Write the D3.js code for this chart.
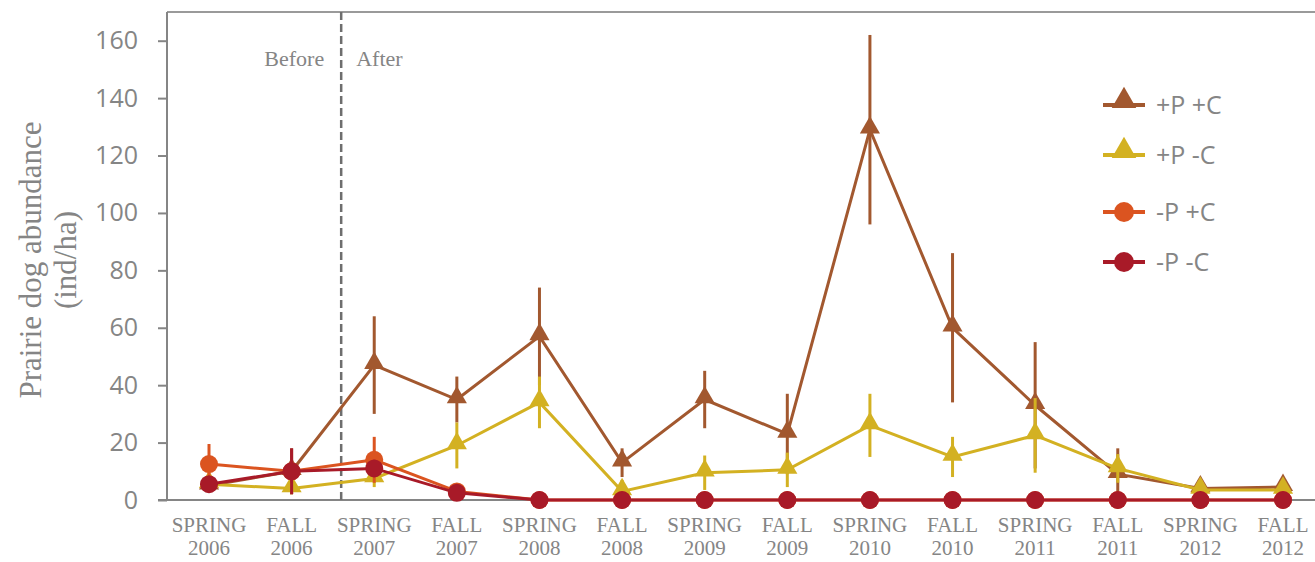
<!DOCTYPE html>
<html>
<head>
<meta charset="utf-8">
<script src="https://cdn.jsdelivr.net/npm/d3@7"></script>
<style>
  body { margin: 0; background: #fff; }
  svg { display: block; }
</style>
</head>
<body>
<div id="chart"></div>
<script>
const seasons = ['SPRING', 'FALL', 'SPRING', 'FALL', 'SPRING', 'FALL', 'SPRING', 'FALL', 'SPRING', 'FALL', 'SPRING', 'FALL', 'SPRING', 'FALL'];
const years = ['2006', '2006', '2007', '2007', '2008', '2008', '2009', '2009', '2010', '2010', '2011', '2011', '2012', '2012'];
const yTicks = [0, 20, 40, 60, 80, 100, 120, 140, 160];

const seriesNames = ['+P +C', '+P -C', '-P +C', '-P -C'];
const ppcValues = [5, 10, 47, 35, 57, 13, 35, 23, 129, 60, 33, 9, 4, 4.5];
const ppcErrors = [2, 8, 17, 8, 17, 5, 10, 14, 33, 26, 22, 9, 3, 3];
const pmcValues = [5.5, 4, 7.5, 19, 34, 3, 9.5, 10.5, 26, 15, 22.5, 11, 3.5, 3.5];
const pmcErrors = [2, 2, 3, 8, 9, 4, 6, 6, 11, 7, 13, 5, 1, 1];
const mpcValues = [12.5, 10, 14, 3, 0, 0, 0, 0, 0, 0, 0, 0, 0, 0];
const mpcErrors = [7, 4, 8, 1, 0, 0, 0, 0, 0, 0, 0, 0, 0, 0];
const mmcValues = [5.5, 10, 11, 2.5, 0, 0, 0, 0, 0, 0, 0, 0, 0, 0];
const mmcErrors = [2, 8, 3, 1, 0, 0, 0, 0, 0, 0, 0, 0, 0, 0];
const dividerIndex = 1.6;

const width = 1315, height = 562;
const PLOT_LEFT = 167, PLOT_TOP = 12, PLOT_BOTTOM = 500;
const GREY = '#858585';

const svg = d3.select('#chart').append('svg')
  .attr('width', width)
  .attr('height', height);

const idx = d3.range(seasons.length);
const x = d3.scaleLinear().domain([0, seasons.length - 1]).range([209, 1283]);
const y = d3.scaleLinear().domain([0, 170]).range([PLOT_BOTTOM, PLOT_TOP]);

// frame: top line
svg.append('line')
  .attr('x1', PLOT_LEFT).attr('x2', width)
  .attr('y1', PLOT_TOP).attr('y2', PLOT_TOP)
  .attr('stroke', '#9a9a9a').attr('stroke-width', 2);

// y axis
const yAxis = svg.append('g')
  .attr('transform', `translate(${PLOT_LEFT},0)`)
  .call(d3.axisLeft(y).tickValues(yTicks).tickSize(9).tickPadding(20));
yAxis.select('.domain').attr('stroke', GREY).attr('stroke-width', 2)
  .attr('d', `M0,${PLOT_TOP}V${PLOT_BOTTOM}`);
yAxis.selectAll('.tick line').attr('stroke', GREY).attr('stroke-width', 2);
yAxis.selectAll('.tick text')
  .attr('fill', GREY)
  .style('font-family', '"Open Sans", sans-serif')
  .style('font-size', '25px');

// x axis line
svg.append('line')
  .attr('x1', PLOT_LEFT - 9).attr('x2', width)
  .attr('y1', y(0)).attr('y2', y(0))
  .attr('stroke', GREY).attr('stroke-width', 2);

// x labels
const xl = svg.append('g')
  .style('font-family', '"Liberation Serif", "Times New Roman", serif')
  .style('font-size', '21px')
  .attr('fill', GREY)
  .attr('text-anchor', 'middle');
xl.selectAll('text.season').data(idx).join('text')
  .attr('class', 'season')
  .attr('x', i => x(i)).attr('y', 532)
  .text(i => seasons[i]);
xl.selectAll('text.year').data(idx).join('text')
  .attr('class', 'year')
  .attr('x', i => x(i)).attr('y', 555)
  .text(i => years[i]);

// y title
const yt = svg.append('text')
  .attr('transform', `translate(41,${(PLOT_TOP + PLOT_BOTTOM) / 2 + 4}) rotate(-90)`)
  .attr('text-anchor', 'middle')
  .attr('fill', GREY)
  .style('font-family', '"Liberation Serif", "Times New Roman", serif')
  .style('font-size', '31px');
yt.append('tspan').attr('x', 0).attr('dy', 0).text('Prairie dog abundance');
yt.append('tspan').attr('x', 0).attr('dy', 35).text('(ind/ha)');

// before / after divider
const dx = x(dividerIndex);
svg.append('line')
  .attr('x1', dx).attr('x2', dx)
  .attr('y1', PLOT_TOP).attr('y2', PLOT_BOTTOM)
  .attr('stroke', '#6e6e6e').attr('stroke-width', 2.5)
  .attr('stroke-dasharray', '8,4');
svg.append('text')
  .attr('x', dx - 17).attr('y', 66)
  .attr('text-anchor', 'end')
  .attr('fill', GREY)
  .style('font-family', '"Liberation Serif", serif')
  .style('font-size', '22px')
  .text('Before');
svg.append('text')
  .attr('x', dx + 15).attr('y', 66)
  .attr('fill', GREY)
  .style('font-family', '"Liberation Serif", serif')
  .style('font-size', '22px')
  .text('After');

const series = [
  { name: seriesNames[0], values: ppcValues, errors: ppcErrors, color: '#A2582F', shape: 'triangle' },
  { name: seriesNames[1], values: pmcValues, errors: pmcErrors, color: '#D3B122', shape: 'triangle' },
  { name: seriesNames[2], values: mpcValues, errors: mpcErrors, color: '#DB5420', shape: 'circle' },
  { name: seriesNames[3], values: mmcValues, errors: mmcErrors, color: '#A81A28', shape: 'circle' }
];

const line = d3.line().x(d => x(d.i)).y(d => y(d.v));
const tri = d3.symbol().type(d3.symbolTriangle).size(175);

series.forEach(s => {
  const pts = idx.map(i => ({ i, v: s.values[i], e: s.errors[i] }));
  const g = svg.append('g');
  g.selectAll('line.err').data(pts.filter(p => p.e > 0)).join('line')
    .attr('class', 'err')
    .attr('x1', p => x(p.i)).attr('x2', p => x(p.i))
    .attr('y1', p => y(p.v + p.e)).attr('y2', p => y(Math.max(0, p.v - p.e)))
    .attr('stroke', s.color).attr('stroke-width', 3);
  g.append('path').datum(pts)
    .attr('d', line)
    .attr('fill', 'none')
    .attr('stroke', s.color)
    .attr('stroke-width', 3);
  if (s.shape === 'triangle') {
    g.selectAll('path.m').data(pts).join('path')
      .attr('class', 'm')
      .attr('d', tri)
      .attr('transform', p => `translate(${x(p.i)},${y(p.v) - 2})`)
      .attr('fill', s.color);
  } else {
    g.selectAll('circle.m').data(pts).join('circle')
      .attr('class', 'm')
      .attr('cx', p => x(p.i)).attr('cy', p => y(p.v))
      .attr('r', 9)
      .attr('fill', s.color);
  }
});

// legend
const legendY = [105, 155, 212, 262];
const legTri = d3.symbol().type(d3.symbolTriangle).size(260);
const lg = svg.append('g');
series.forEach((s, k) => {
  const ly = legendY[k];
  lg.append('line')
    .attr('x1', 1103).attr('x2', 1145)
    .attr('y1', ly).attr('y2', ly)
    .attr('stroke', s.color).attr('stroke-width', 4);
  if (s.shape === 'triangle') {
    lg.append('path').attr('d', legTri)
      .attr('transform', `translate(1124,${ly - 4})`)
      .attr('fill', s.color);
  } else {
    lg.append('circle').attr('cx', 1124).attr('cy', ly).attr('r', 10)
      .attr('fill', s.color);
  }
  lg.append('text')
    .attr('x', 1156).attr('y', ly + 9)
    .attr('fill', GREY)
    .style('font-family', '"Open Sans", sans-serif')
    .style('font-size', '25px')
    .text(s.name);
});
</script>
</body>
</html>
